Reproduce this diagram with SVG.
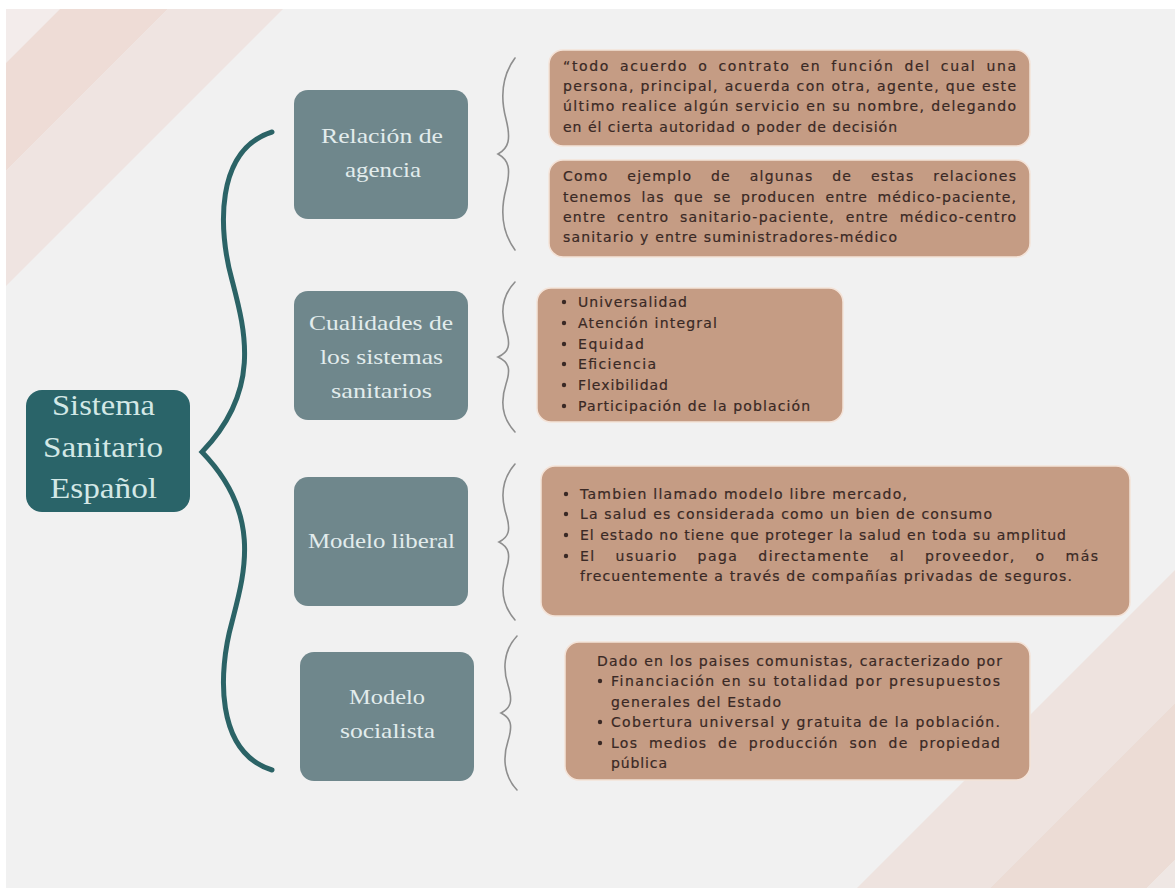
<svg xmlns="http://www.w3.org/2000/svg" width="1175" height="888" viewBox="0 0 1175 888">
<style>
.bg{fill:#f1f1f1}
.main{fill:#2a6469}
.mt{font-family:"Liberation Serif",serif;font-size:30px;fill:#d3e8e6}
.cat{fill:#6f878c}
.ct{font-family:"Liberation Serif",serif;font-size:22px;fill:#e2ecec}
.box{fill:#c59c84;stroke:#f4e3d8;stroke-width:1.5}
.bt{font-family:"DejaVu Sans",sans-serif;font-size:14px;fill:#3a2925;stroke:#3a2925;stroke-width:0.2}
.dot{fill:#3a2925}
.brace{fill:none;stroke:#8e8e8e;stroke-width:1.6;stroke-linecap:round}
.big{fill:none;stroke:#2b6366;stroke-width:5;stroke-linecap:round;stroke-linejoin:miter}
</style>
<g id="background">
<rect x="0" y="0" width="1175" height="888" fill="#ffffff"/>
<rect class="bg" x="6" y="9" width="1169" height="879"/>
<polygon points="6,9 60,9 6,63" fill="#f3eceb"/>
<polygon points="60,9 168,9 6,171 6,63" fill="#eedcd6"/>
<polygon points="168,9 283,9 6,286 6,171" fill="#efe4e1"/>
<polygon points="1175,570 1175,703 990,888 857,888" fill="#eee3df"/>
<polygon points="1175,703 1175,860 1147,888 990,888" fill="#ecdcd5"/>
<polygon points="1175,860 1175,888 1147,888" fill="#efe7e4"/>
</g>
<g id="connectors">
<path class="big" d="M272,132 C215,150 218,230 232,280 C245,330 262,390 202,452 C262,514 245,572 232,622 C218,672 215,752 272,770"/>
<path class="brace" d="M515,58 C501,77 501,100 506,119 C511,139 509,148 498,154 C509,160 511,169 506,189 C501,208 501,231 515,250"/>
<path class="brace" d="M515,282 C501,297 501,315 506,330 C511,345 509,352 498,357 C509,362 511,369 506,384 C501,399 501,417 515,432"/>
<path class="brace" d="M515,464 C501,480 501,498 506,514 C511,530 509,537 499,542 C509,547 511,555 506,570 C501,586 501,604 515,620"/>
<path class="brace" d="M517,636 C503,651 503,670 508,685 C513,701 511,708 501,713 C511,718 513,725 508,741 C503,756 503,775 517,790"/>
</g>
<g id="node-main">
<rect class="main" x="26" y="390" width="164" height="122" rx="16"/>
<text class="mt" x="52" y="415" textLength="103" lengthAdjust="spacingAndGlyphs">Sistema</text>
<text class="mt" x="43" y="457" textLength="120" lengthAdjust="spacingAndGlyphs">Sanitario</text>
<text class="mt" x="50" y="498" textLength="107" lengthAdjust="spacingAndGlyphs">Español</text>
</g>
<g id="node-agencia">
<rect class="cat" x="294" y="90" width="174" height="129" rx="14"/>
<text class="ct" x="321" y="143" textLength="122" lengthAdjust="spacingAndGlyphs">Relación de</text>
<text class="ct" x="345" y="177" textLength="76" lengthAdjust="spacingAndGlyphs">agencia</text>
</g>
<g id="node-cualidades">
<rect class="cat" x="294" y="291" width="174" height="129" rx="14"/>
<text class="ct" x="309" y="330" textLength="144" lengthAdjust="spacingAndGlyphs">Cualidades de</text>
<text class="ct" x="320" y="364" textLength="123" lengthAdjust="spacingAndGlyphs">los sistemas</text>
<text class="ct" x="331" y="398" textLength="101" lengthAdjust="spacingAndGlyphs">sanitarios</text>
</g>
<g id="node-liberal">
<rect class="cat" x="294" y="477" width="174" height="129" rx="14"/>
<text class="ct" x="308" y="548" textLength="147" lengthAdjust="spacingAndGlyphs">Modelo liberal</text>
</g>
<g id="node-socialista">
<rect class="cat" x="300" y="652" width="174" height="129" rx="14"/>
<text class="ct" x="349" y="704" textLength="76" lengthAdjust="spacingAndGlyphs">Modelo</text>
<text class="ct" x="340" y="738" textLength="95" lengthAdjust="spacingAndGlyphs">socialista</text>
</g>
<g id="box-definicion">
<rect class="box" x="549" y="50" width="481" height="96" rx="14"/>
<text class="bt" x="563" y="71" textLength="453" lengthAdjust="spacing" word-spacing="4">“todo acuerdo o contrato en función del cual una</text>
<text class="bt" x="563" y="91" textLength="453" lengthAdjust="spacing">persona, principal, acuerda con otra, agente, que este</text>
<text class="bt" x="563" y="111" textLength="453" lengthAdjust="spacing">último realice algún servicio en su nombre, delegando</text>
<text class="bt" x="563" y="132" textLength="334" lengthAdjust="spacing">en él cierta autoridad o poder de decisión</text>
</g>
<g id="box-ejemplo">
<rect class="box" x="549" y="160" width="481" height="97" rx="14"/>
<text class="bt" x="563" y="181" textLength="453" lengthAdjust="spacing" word-spacing="13">Como ejemplo de algunas de estas relaciones</text>
<text class="bt" x="563" y="202" textLength="453" lengthAdjust="spacing" word-spacing="4">tenemos las que se producen entre médico-paciente,</text>
<text class="bt" x="563" y="222" textLength="453" lengthAdjust="spacing" word-spacing="5">entre centro sanitario-paciente, entre médico-centro</text>
<text class="bt" x="563" y="242" textLength="334" lengthAdjust="spacing">sanitario y entre suministradores-médico</text>
</g>
<g id="box-cualidades">
<rect class="box" x="537" y="288" width="306" height="134" rx="14"/>
<circle class="dot" cx="564" cy="302" r="2.2"/>
<circle class="dot" cx="564" cy="323" r="2.2"/>
<circle class="dot" cx="564" cy="344" r="2.2"/>
<circle class="dot" cx="564" cy="364" r="2.2"/>
<circle class="dot" cx="564" cy="385" r="2.2"/>
<circle class="dot" cx="564" cy="406" r="2.2"/>
<text class="bt" x="578" y="307" textLength="109" lengthAdjust="spacing">Universalidad</text>
<text class="bt" x="578" y="328" textLength="139" lengthAdjust="spacing">Atención integral</text>
<text class="bt" x="578" y="349" textLength="66" lengthAdjust="spacing">Equidad</text>
<text class="bt" x="578" y="369" textLength="78" lengthAdjust="spacing">Eficiencia</text>
<text class="bt" x="578" y="390" textLength="90" lengthAdjust="spacing">Flexibilidad</text>
<text class="bt" x="578" y="411" textLength="232" lengthAdjust="spacing">Participación de la población</text>
</g>
<g id="box-liberal">
<rect class="box" x="541" y="466" width="589" height="150" rx="14"/>
<circle class="dot" cx="566" cy="494" r="2.2"/>
<circle class="dot" cx="566" cy="514" r="2.2"/>
<circle class="dot" cx="566" cy="535" r="2.2"/>
<circle class="dot" cx="566" cy="556" r="2.2"/>
<text class="bt" x="580" y="499" textLength="327" lengthAdjust="spacing">Tambien llamado modelo libre mercado,</text>
<text class="bt" x="580" y="519" textLength="412" lengthAdjust="spacing">La salud es considerada como un bien de consumo</text>
<text class="bt" x="580" y="540" textLength="486" lengthAdjust="spacing">El estado no tiene que proteger la salud en toda su amplitud</text>
<text class="bt" x="580" y="561" textLength="518" lengthAdjust="spacing" word-spacing="14">El usuario paga directamente al proveedor, o más</text>
<text class="bt" x="580" y="581" textLength="492" lengthAdjust="spacing">frecuentemente a través de compañías privadas de seguros.</text>
</g>
<g id="box-socialista">
<rect class="box" x="565" y="642" width="465" height="138" rx="14"/>
<text class="bt" x="597" y="666" textLength="405" lengthAdjust="spacing">Dado en los paises comunistas, caracterizado por</text>
<circle class="dot" cx="600" cy="681" r="2.2"/>
<circle class="dot" cx="600" cy="722" r="2.2"/>
<circle class="dot" cx="600" cy="743" r="2.2"/>
<text class="bt" x="611" y="686" textLength="389" lengthAdjust="spacing">Financiación en su totalidad por presupuestos</text>
<text class="bt" x="611" y="707" textLength="170" lengthAdjust="spacing">generales del Estado</text>
<text class="bt" x="611" y="727" textLength="389" lengthAdjust="spacing">Cobertura universal y gratuita de la población.</text>
<text class="bt" x="611" y="748" textLength="389" lengthAdjust="spacing" word-spacing="5">Los medios de producción son de propiedad</text>
<text class="bt" x="611" y="768" textLength="56" lengthAdjust="spacing">pública</text>
</g>
</svg>
